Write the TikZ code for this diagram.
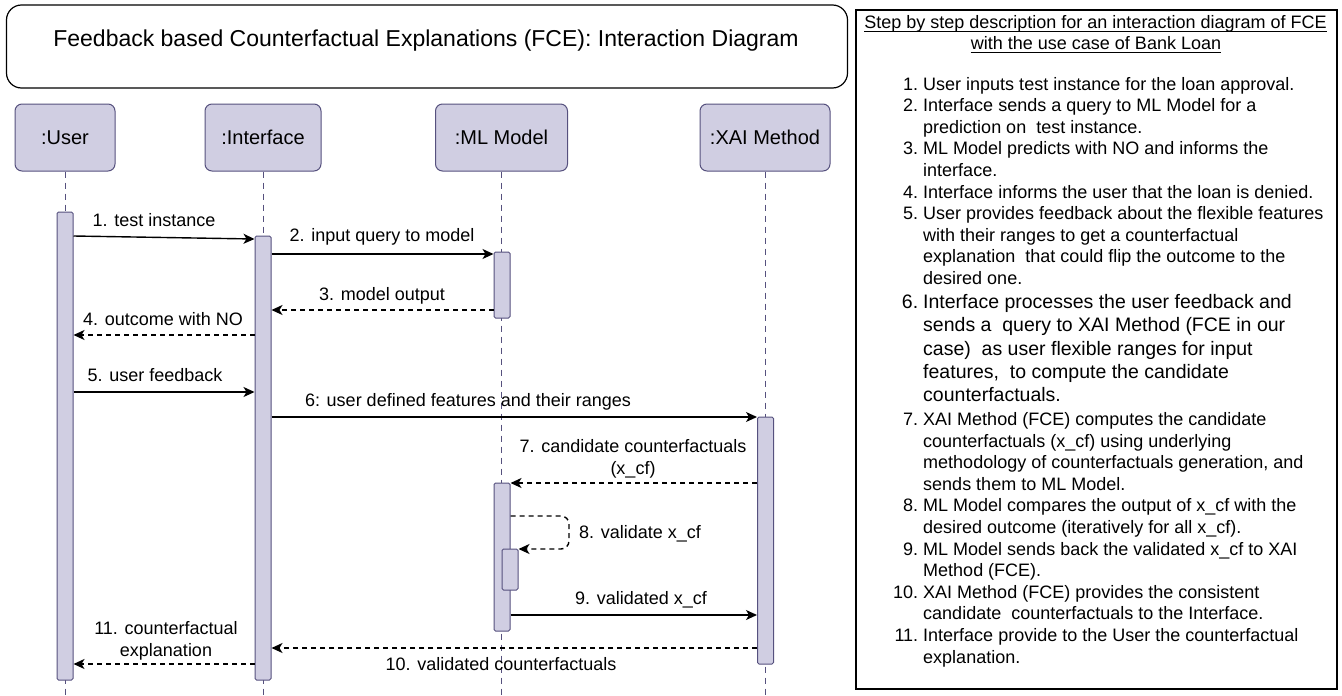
\documentclass[tikz,border=0pt]{standalone}
\usepackage{fontspec}
\setmainfont{Liberation Sans}
\usetikzlibrary{arrows.meta}
\definecolor{lfill}{HTML}{D0CEE2}
\definecolor{ldraw}{HTML}{56517E}
\newcommand\stepsixfont{\fontsize{19.5}{23.3}\selectfont}
\begin{document}
\begin{tikzpicture}[x=1pt,y=-1pt,
  head/.style={draw=ldraw, fill=lfill, rounded corners=7pt, line width=1pt, minimum height=67pt, inner sep=0pt, font=\fontsize{20}{24}\selectfont},
  actbar/.style={draw=ldraw, fill=lfill, rounded corners=1.5pt, line width=1pt, minimum width=16pt, inner sep=0pt},
  life/.style={draw=ldraw, line width=0.9pt, dash pattern=on 6pt off 5pt},
  msg/.style={line width=1.4pt, -{Stealth[length=11pt,width=10pt,inset=3pt]}},
  ret/.style={msg, dash pattern=on 5pt off 4pt},
  lbl/.style={font=\fontsize{18}{22}\selectfont, inner sep=0pt, anchor=base},
  lbl2/.style={font=\fontsize{18}{22}\selectfont, inner sep=0pt, align=center},
  hdr/.style={font=\fontsize{18}{21}\selectfont, inner sep=0pt, anchor=base}
]
\useasboundingbox (0,0) rectangle (1342,696);

% title
\node[draw, rounded corners=15pt, line width=1.2pt, minimum width=841pt, minimum height=83pt, inner sep=0pt] (titlebox) at (427,46.5) {};
\node[font=\fontsize{23}{27}\selectfont, anchor=base, inner sep=0pt] (title) at (426,46) {Feedback based Counterfactual Explanations (FCE): Interaction Diagram};

% heads
\node[head, minimum width=100pt] (user) at (65,137.5) {:User};
\node[head, minimum width=116pt] (iface) at (263,137.5) {:Interface};
\node[head, minimum width=132pt] (ml) at (501.5,137.5) {:ML Model};
\node[head, minimum width=130pt] (xai) at (765,137.5) {:XAI Method};

% lifelines
\draw[life] (user.south) -- (user.south |- 0,696);
\draw[life] (iface.south) -- (iface.south |- 0,696);
\draw[life] (ml.south) -- (ml.south |- 0,696);
\draw[life] (xai.south) -- (xai.south |- 0,696);

% activation bars
\node[actbar, minimum height=468pt] (ubar) at (65,446) {};
\node[actbar, minimum height=444pt] (ibar) at (263,458) {};
\node[actbar, minimum height=66pt] (mbar1) at (502,285) {};
\node[actbar, minimum height=247pt] (xbar) at (765.5,540.5) {};
\node[actbar, minimum height=148pt] (mbar2) at (502,557) {};
\node[actbar, minimum height=41pt] (mbar3) at (510,569.5) {};

% messages
\draw[msg] (ubar.east |- 0,236) -- (ibar.west |- 0,239);
\draw[msg] (ibar.east |- 0,254) -- (mbar1.west |- 0,254);
\draw[ret] (mbar1.west |- 0,310) -- (ibar.east |- 0,310);
\draw[ret] (ibar.west |- 0,335) -- (ubar.east |- 0,335);
\draw[msg] (ubar.east |- 0,392) -- (ibar.west |- 0,392);
\draw[msg] (ibar.east |- 0,417) -- (xbar.west |- 0,417);
\draw[ret] (xbar.west |- 0,483) -- (mbar2.east |- 0,483);
\coordinate (loopR) at (569,532);
\draw[ret, rounded corners=8pt] (mbar2.east |- 0,516) -- (loopR |- 0,516) -- (loopR |- 0,549) -- (mbar3.east |- 0,549);
\draw[msg] (mbar2.east |- 0,615) -- (xbar.west |- 0,615);
\draw[ret] (xbar.west |- 0,648) -- (ibar.east |- 0,648);
\draw[ret] (ibar.west |- 0,664) -- (ubar.east |- 0,664);

% labels
\node[lbl] (l1) at (154,226) {1. test instance};
\node[lbl] (l2) at (382,241) {2. input query to model};
\node[lbl] (l3) at (382,300) {3. model output};
\node[lbl] (l4) at (163,325) {4. outcome with NO};
\node[lbl] (l5) at (155,381) {5. user feedback};
\node[lbl] (l6) at (468,406) {6: user defined features and their ranges};
\node[lbl2] (l7) at (633,459) {7. candidate counterfactuals\\(x\_cf)};
\node[lbl] (l8) at (640,538) {8. validate x\_cf};
\node[lbl] (l9) at (641,604) {9. validated x\_cf};
\node[lbl] (l10) at (501,670) {10. validated counterfactuals};
\node[lbl2] (l11) at (166,641) {11. counterfactual\\explanation};

% description panel
\node[draw, line width=1.4pt, minimum width=481pt, minimum height=679pt, inner sep=0pt] (descbox) at (1096.5,349.5) {};
\node[hdr] (hd1) at (1095.5,28.5) {Step by step description for an interaction diagram of FCE};
\node[hdr] (hd2) at (1096,49.5) {with the use case of Bank Loan};
\draw[line width=0.9pt] ([yshift=-2.5pt]hd1.base west) -- ([yshift=-2.5pt]hd1.base east);
\draw[line width=0.9pt] ([yshift=-2.5pt]hd2.base west) -- ([yshift=-2.5pt]hd2.base east);

\node[anchor=base west, inner sep=0pt, font=\fontsize{18}{21.6}\selectfont] (steps) at (893,90) {%
\begin{tabular}[t]{@{}r@{\hspace{5pt}}l@{}}
1. & User inputs test instance for the loan approval.\\
2. & Interface sends a query to ML Model for a\\
 & prediction on\ \ test instance.\\
3. & ML Model predicts with NO and informs the\\
 & interface.\\
4. & Interface informs the user that the loan is denied.\\
5. & User provides feedback about the flexible features\\
 & with their ranges to get a counterfactual\\
 & explanation\ \ that could flip the outcome to the\\
 & desired one.\\[2.4pt]
\stepsixfont 6. & \stepsixfont Interface processes the user feedback and\\[1.7pt]
 & \stepsixfont sends a\ \ query to XAI Method (FCE in our\\[1.7pt]
 & \stepsixfont case)\ \ as user flexible ranges for input\\[1.7pt]
 & \stepsixfont features,\ \ to compute the candidate\\[1.7pt]
 & \stepsixfont counterfactuals.\\[2.4pt]
7. & XAI Method (FCE) computes the candidate\\
 & counterfactuals (x\_cf) using underlying\\
 & methodology of counterfactuals generation, and\\
 & sends them to ML Model.\\
8. & ML Model compares the output of x\_cf with the\\
 & desired outcome (iteratively for all x\_cf).\\
9. & ML Model sends back the validated x\_cf to XAI\\
 & Method (FCE).\\
10. & XAI Method (FCE) provides the consistent\\
 & candidate\ \ counterfactuals to the Interface.\\
11. & Interface provide to the User the counterfactual\\
 & explanation.
\end{tabular}};
\end{tikzpicture}
\end{document}
